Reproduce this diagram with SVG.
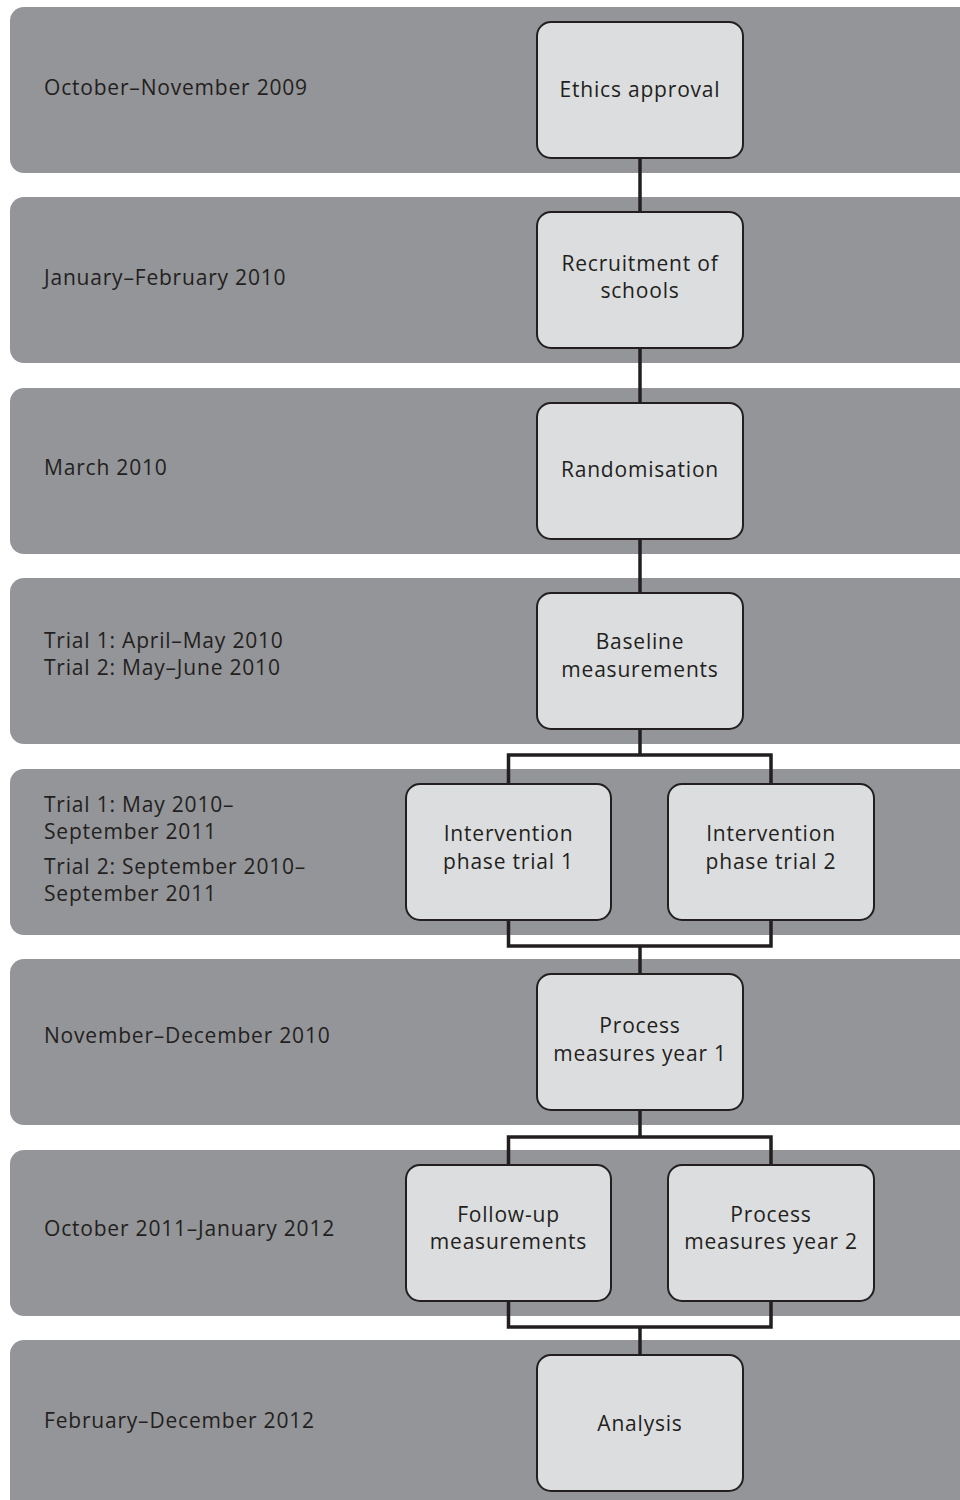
<svg xmlns="http://www.w3.org/2000/svg" width="960" height="1500" viewBox="0 0 960 1500">
<style>
.band{fill:#939598}
.node{fill:#dcdddf;stroke:#231f20;stroke-width:2}
.t{font-family:"Open Sans","Liberation Sans",sans-serif;font-size:21px;letter-spacing:0.8px;fill:#231f20}
.c{text-anchor:middle}
.conn{fill:none;stroke:#231f20;stroke-width:3.5}
</style>
<g id="bands">
<rect class="band" x="10" y="7" width="980" height="166" rx="14"/>
<rect class="band" x="10" y="197" width="980" height="166" rx="14"/>
<rect class="band" x="10" y="388" width="980" height="166" rx="14"/>
<rect class="band" x="10" y="578" width="980" height="166" rx="14"/>
<rect class="band" x="10" y="769" width="980" height="166" rx="14"/>
<rect class="band" x="10" y="959" width="980" height="166" rx="14"/>
<rect class="band" x="10" y="1150" width="980" height="166" rx="14"/>
<rect class="band" x="10" y="1340" width="980" height="180" rx="14"/>
</g>
<g id="dates" class="t">
<text x="44" y="95">October–November 2009</text>
<text x="44" y="285">January–February 2010</text>
<text x="44" y="475">March 2010</text>
<text x="44" y="648">Trial 1: April–May 2010</text>
<text x="44" y="675">Trial 2: May–June 2010</text>
<text x="44" y="812">Trial 1: May 2010–</text>
<text x="44" y="839">September 2011</text>
<text x="44" y="874">Trial 2: September 2010–</text>
<text x="44" y="901">September 2011</text>
<text x="44" y="1043">November–December 2010</text>
<text x="44" y="1236">October 2011–January 2012</text>
<text x="44" y="1428">February–December 2012</text>
</g>
<g id="connectors" class="conn">
<line x1="640" y1="158" x2="640" y2="212"/>
<line x1="640" y1="348" x2="640" y2="403"/>
<line x1="640" y1="539" x2="640" y2="593"/>
<path d="M640 729V755M508.5 784V755H771V784"/>
<path d="M508.5 920V946H771V920M640 946V974"/>
<path d="M640 1110V1137M508.5 1165V1137H771V1165"/>
<path d="M508.5 1301V1327H771V1301M640 1327V1355"/>
</g>
<g id="n1"><rect class="node" x="537" y="22" width="206" height="136" rx="14"/><text class="t c" x="640" y="97">Ethics approval</text></g>
<g id="n2"><rect class="node" x="537" y="212" width="206" height="136" rx="14"/><text class="t c" x="640" y="271">Recruitment of</text><text class="t c" x="640" y="298">schools</text></g>
<g id="n3"><rect class="node" x="537" y="403" width="206" height="136" rx="14"/><text class="t c" x="640" y="477">Randomisation</text></g>
<g id="n4"><rect class="node" x="537" y="593" width="206" height="136" rx="14"/><text class="t c" x="640" y="649">Baseline</text><text class="t c" x="640" y="677">measurements</text></g>
<g id="n5a"><rect class="node" x="406" y="784" width="205" height="136" rx="14"/><text class="t c" x="508.5" y="841">Intervention</text><text class="t c" x="508.5" y="869">phase trial 1</text></g>
<g id="n5b"><rect class="node" x="668" y="784" width="206" height="136" rx="14"/><text class="t c" x="771" y="841">Intervention</text><text class="t c" x="771" y="869">phase trial 2</text></g>
<g id="n6"><rect class="node" x="537" y="974" width="206" height="136" rx="14"/><text class="t c" x="640" y="1033">Process</text><text class="t c" x="640" y="1061">measures year 1</text></g>
<g id="n7a"><rect class="node" x="406" y="1165" width="205" height="136" rx="14"/><text class="t c" x="508.5" y="1222">Follow-up</text><text class="t c" x="508.5" y="1249">measurements</text></g>
<g id="n7b"><rect class="node" x="668" y="1165" width="206" height="136" rx="14"/><text class="t c" x="771" y="1222">Process</text><text class="t c" x="771" y="1249">measures year 2</text></g>
<g id="n8"><rect class="node" x="537" y="1355" width="206" height="136" rx="14"/><text class="t c" x="640" y="1431">Analysis</text></g>
</svg>
